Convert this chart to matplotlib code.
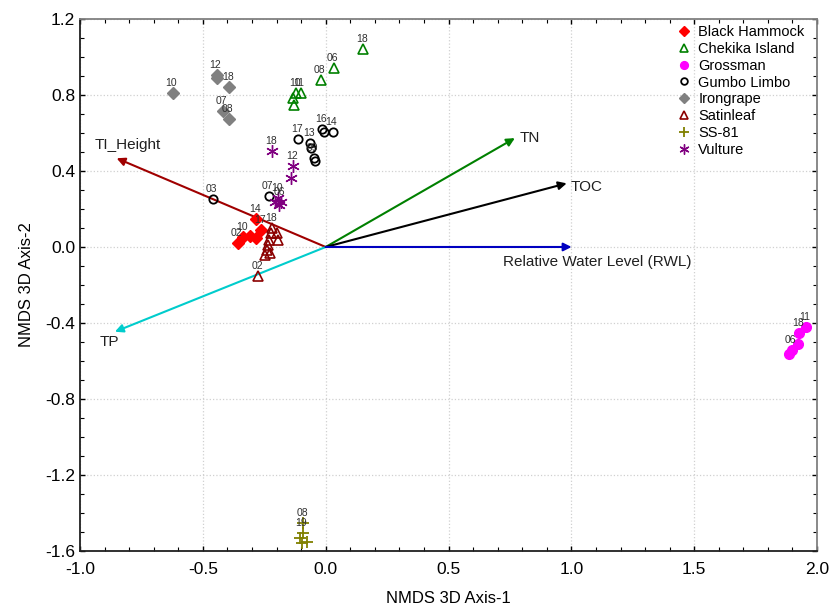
import matplotlib
matplotlib.use('Agg')
import matplotlib.pyplot as plt
from matplotlib.ticker import MultipleLocator, FormatStrFormatter

plt.rcParams['font.family'] = ['Liberation Sans', 'DejaVu Sans']

# NMDS site scores
bh_x = [-0.358, -0.337, -0.308, -0.284, -0.263, -0.284]
bh_y = [0.021, 0.055, 0.060, 0.047, 0.089, 0.146]
bh_lab = ['02', '10', '', '', '17', '14']

ck_x = [0.153, 0.034, -0.019, -0.122, -0.102, -0.132, -0.130]
ck_y = [1.042, 0.944, 0.879, 0.812, 0.809, 0.786, 0.747]
ck_lab = ['18', '06', '08', '10', '11', '', '']

gr_x = [1.955, 1.926, 1.923, 1.897, 1.886]
gr_y = [-0.419, -0.454, -0.512, -0.542, -0.565]
gr_lab = ['11', '18', '', '06', '']

gl_x = [-0.112, -0.064, -0.060, -0.048, -0.044, -0.016, -0.007, 0.028, -0.231, -0.460]
gl_y = [0.567, 0.546, 0.521, 0.467, 0.453, 0.619, 0.607, 0.604, 0.270, 0.251]
gl_lab = ['17', '13', '', '09', '', '16', '', '14', '07', '03']

ig_x = [-0.444, -0.444, -0.392, -0.419, -0.394, -0.623]
ig_y = [0.905, 0.888, 0.844, 0.717, 0.674, 0.812]
ig_lab = ['12', '', '18', '07', '08', '10']

sl_x = [-0.220, -0.224, -0.199, -0.231, -0.193, -0.234, -0.240, -0.227, -0.247, -0.274]
sl_y = [0.098, 0.072, 0.072, 0.037, 0.037, 0.011, -0.016, -0.033, -0.042, -0.153]
sl_lab = ['18', '', '', '', '', '', '', '', '', '02']

ss_x = [-0.091, -0.094, -0.105, -0.077, -0.098]
ss_y = [-1.451, -1.507, -1.533, -1.551, -1.559]
ss_lab = ['08', '19', '', '', '']

vu_x = [-0.220, -0.134, -0.141, -0.193, -0.183, -0.206, -0.189]
vu_y = [0.505, 0.426, 0.362, 0.256, 0.238, 0.238, 0.221]
vu_lab = ['18', '12', '', '10', '06', '', '']

# environmental vectors
vec_names = ['TI_Height', 'TP', 'TN', 'TOC', 'Relative Water Level (RWL)']
vec_x = [-0.851, -0.858, 0.770, 0.981, 1.001]
vec_y = [0.467, -0.446, 0.573, 0.335, 0.0]
vec_colors = ['#A00000', '#00CCCC', '#008000', '#000000', '#0000C0']

series = [
    ('Black Hammock', bh_x, bh_y, bh_lab, dict(marker='D', color='#FF0000', ms=6.5)),
    ('Chekika Island', ck_x, ck_y, ck_lab, dict(marker='^', mfc='none', mec='#008000', ms=7, mew=1.2)),
    ('Grossman', gr_x, gr_y, gr_lab, dict(marker='o', color='#FF00FF', ms=7)),
    ('Gumbo Limbo', gl_x, gl_y, gl_lab, dict(marker='o', mfc='none', mec='#000000', ms=6, mew=1.3)),
    ('Irongrape', ig_x, ig_y, ig_lab, dict(marker='D', color='#808080', ms=6.5)),
    ('Satinleaf', sl_x, sl_y, sl_lab, dict(marker='^', mfc='none', mec='#8B0000', ms=7, mew=1.2)),
    ('SS-81', ss_x, ss_y, ss_lab, dict(marker='+', color='#808000', ms=9, mew=1.3)),
    ('Vulture', vu_x, vu_y, vu_lab, dict(marker=(6, 2, 0), color='#800080', ms=9, mew=1.0)),
]

fig = plt.figure(figsize=(8.31, 6.07), dpi=100)
ax = fig.add_axes([0.0963, 0.0923, 0.8869, 0.8764])

# vectors first so points sit on top
for name, vx, vy, c in zip(vec_names, vec_x, vec_y, vec_colors):
    ax.annotate('', xy=(vx, vy), xytext=(0, 0),
                arrowprops=dict(arrowstyle='-|>', color=c, lw=1.5,
                                mutation_scale=12, shrinkA=0, shrinkB=0),
                zorder=2)

ax.text(-0.94, 0.537, 'TI_Height', fontsize=11, ha='left', va='center', color='#202020')
ax.text(-0.92, -0.50, 'TP', fontsize=11, ha='left', va='center', color='#202020')
ax.text(0.79, 0.573, 'TN', fontsize=11, ha='left', va='center', color='#202020')
ax.text(0.995, 0.315, 'TOC', fontsize=11, ha='left', va='center', color='#202020')
ax.text(0.72, -0.08, 'Relative Water Level (RWL)', fontsize=11, ha='left', va='center', color='#202020')

for name, xs, ys, labs, style in series:
    ax.plot(xs, ys, ls='none', label=name, zorder=3, **style)
    for x, y, lab in zip(xs, ys, labs):
        if lab:
            ax.annotate(lab, (x, y), xytext=(-5, 5), textcoords='offset points',
                        fontsize=7.5, color='#303030', zorder=4)

ax.set_xlim(-1.0, 2.0)
ax.set_ylim(-1.6, 1.2)
ax.xaxis.set_major_locator(MultipleLocator(0.5))
ax.xaxis.set_minor_locator(MultipleLocator(0.1))
ax.yaxis.set_major_locator(MultipleLocator(0.4))
ax.yaxis.set_minor_locator(MultipleLocator(0.1))
ax.xaxis.set_major_formatter(FormatStrFormatter('%.1f'))
ax.yaxis.set_major_formatter(FormatStrFormatter('%.1f'))
ax.tick_params(which='both', direction='in', top=True, right=True, labelsize=12.5)
ax.tick_params(which='major', length=3.5, width=1)
ax.tick_params(which='minor', length=3, width=0.8)
ax.tick_params(axis='x', pad=8)

ax.grid(which='major', ls=':', color='#D0D0D0', lw=0.9, zorder=0)

for side in ['left', 'bottom']:
    ax.spines[side].set_color('#202020')
    ax.spines[side].set_linewidth(1.3)
for side in ['top', 'right']:
    ax.spines[side].set_color('#808080')
    ax.spines[side].set_linewidth(1.3)

ax.set_xlabel('NMDS 3D Axis-1', fontsize=12, labelpad=10)
ax.set_ylabel('NMDS 3D Axis-2', fontsize=12, labelpad=8)

ax.legend(loc='upper right', bbox_to_anchor=(0.991, 1.0), frameon=False,
          fontsize=10.5, handletextpad=0.5, labelspacing=0.2, borderaxespad=0,
          handlelength=1.0, markerscale=0.8)

fig.savefig('out.png', dpi=100)
